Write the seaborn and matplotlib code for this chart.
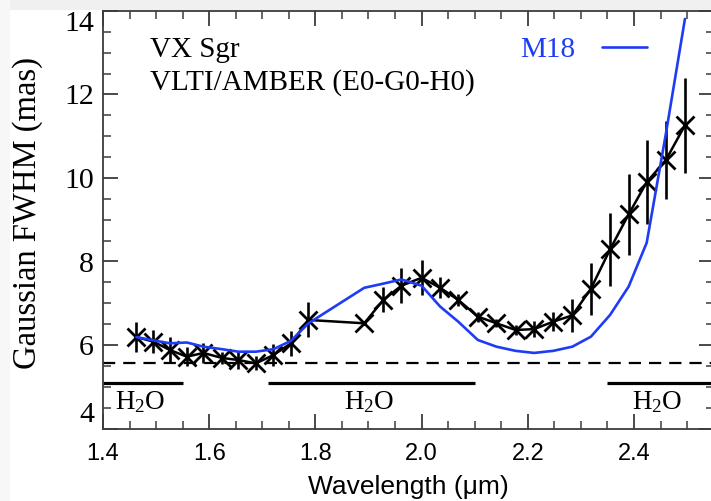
import numpy as np
import pandas as pd
import matplotlib
matplotlib.use("Agg")
import matplotlib.pyplot as plt
from matplotlib.ticker import MultipleLocator
from matplotlib.patches import Rectangle
import seaborn as sns

# ---- data ----
wavelength = [1.463, 1.495, 1.526, 1.558, 1.589, 1.624, 1.655, 1.688, 1.721, 1.754,
              1.787, 1.892, 1.928, 1.962, 2.000, 2.035, 2.069, 2.106, 2.141, 2.177,
              2.212, 2.248, 2.284, 2.319, 2.355, 2.390, 2.424, 2.460, 2.496]
fwhm = [6.19, 6.08, 5.88, 5.72, 5.81, 5.69, 5.64, 5.56, 5.76, 6.04,
        6.60, 6.52, 7.08, 7.42, 7.61, 7.37, 7.08, 6.68, 6.52, 6.36,
        6.38, 6.56, 6.71, 7.35, 8.29, 9.13, 9.90, 10.43, 11.26]
fwhm_err = [0.36, 0.28, 0.30, 0.23, 0.24, 0.15, 0.22, 0.17, 0.26, 0.30,
            0.42, 0.05, 0.30, 0.42, 0.42, 0.25, 0.15, 0.12, 0.10, 0.12,
            0.20, 0.22, 0.40, 0.62, 0.87, 0.97, 1.00, 0.93, 1.14]
model_m18 = [6.19, 6.11, 6.04, 6.06, 5.96, 5.90, 5.84, 5.84, 5.90, 6.10,
             6.52, 7.37, 7.47, 7.57, 7.42, 6.92, 6.56, 6.12, 5.96, 5.86,
             5.81, 5.86, 5.96, 6.20, 6.72, 7.40, 8.45, 11.05, 13.81]
h2o_start = [1.40, 1.71, 2.35]
h2o_end = [1.55, 2.10, 2.56]
h2o_label_x = [1.471, 1.902, 2.444]
h2o_level = 5.09
dashed_level = 5.56
title_lines = ["VX Sgr", "VLTI/AMBER (E0-G0-H0)"]
model_name = "M18"

df = pd.DataFrame({"wl": wavelength, "fwhm": fwhm, "err": fwhm_err, "model": model_m18})

sns.set_theme(style="ticks")
plt.rcParams["font.family"] = ["Liberation Serif", "DejaVu Serif"]
plt.rcParams["mathtext.fontset"] = "custom"
plt.rcParams["mathtext.rm"] = "Liberation Serif"
plt.rcParams["mathtext.it"] = "Liberation Serif:italic"
plt.rcParams["mathtext.bf"] = "Liberation Serif:bold"
plt.rcParams["text.color"] = "black"
plt.rcParams["axes.labelcolor"] = "black"
plt.rcParams["xtick.labelcolor"] = "black"
plt.rcParams["ytick.labelcolor"] = "black"

BLUE = "#1f3cf5"
W, H = 711, 501
fig = plt.figure(figsize=(W / 100, H / 100), dpi=100)
fig.patch.set_facecolor("white")
fig.patches.append(Rectangle((0, 1 - 10 / H), 1, 10 / H, transform=fig.transFigure,
                             facecolor="#f0f0f0", edgecolor="none", zorder=-5))
fig.patches.append(Rectangle((0, 0), 10 / W, 1, transform=fig.transFigure,
                             facecolor="#f7f7f7", edgecolor="none", zorder=-5))

left, right, top, bottom = 103, 713.6, 11, 428.5
ax = fig.add_axes([left / W, (H - bottom) / H, (right - left) / W, (bottom - top) / H])
ax.set_facecolor("white")

ax.errorbar(df["wl"], df["fwhm"], yerr=df["err"], fmt="none", ecolor="black",
            elinewidth=1.9, capsize=0, zorder=3)
sns.lineplot(data=df, x="wl", y="fwhm", color="black", lw=1.8, marker="x",
             markersize=13.5, mew=2.0, mec="black", ax=ax, zorder=4)
sns.lineplot(data=df, x="wl", y="model", color=BLUE, lw=1.9, ax=ax, zorder=5,
             label=model_name)

ax.axhline(dashed_level, color="black", lw=1.6, dashes=(5.5, 3.6), zorder=2)
ax.hlines([h2o_level] * len(h2o_start), h2o_start, h2o_end, color="black", lw=2.3, zorder=2)
for xl in h2o_label_x:
    ax.text(xl, 4.62, r"H$_\mathregular{2}$O", ha="center", va="center", fontsize=19.5)

ax.text(0.077, 0.9066, title_lines[0], transform=ax.transAxes, va="center", ha="left",
        fontsize=21)
ax.text(0.077, 0.8275, title_lines[1], transform=ax.transAxes, va="center", ha="left",
        fontsize=21)

leg = ax.legend(loc="center right", bbox_to_anchor=(0.8909, 0.9066), frameon=False,
                markerfirst=False, handlelength=1.55, handletextpad=0.9,
                borderpad=0, borderaxespad=0, fontsize=21, labelcolor=BLUE)

ax.set_xlim(1.4, 2.55)
ax.set_ylim(4, 14)
ax.xaxis.set_major_locator(MultipleLocator(0.2))
ax.xaxis.set_minor_locator(MultipleLocator(0.05))
ax.yaxis.set_major_locator(MultipleLocator(2))
ax.yaxis.set_minor_locator(MultipleLocator(0.5))

tick_col = "#3c3c3c"
ax.tick_params(which="both", direction="in", top=True, right=True, color=tick_col)
ax.tick_params(which="major", length=11, width=1.3)
ax.tick_params(which="minor", length=5.5, width=1.1)
ax.tick_params(axis="x", labelfontfamily="Liberation Sans", labelsize=17, pad=10.5,
               labelcolor="black")
ax.tick_params(axis="y", labelsize=21.5, pad=6.5, labelcolor="black")
for s in ax.spines.values():
    s.set_color(tick_col)
    s.set_linewidth(1.3)

ax.set_xlabel("Wavelength (μm)", fontfamily="Liberation Sans", fontsize=19, color="black")
ax.set_ylabel("Gaussian FWHM (mas)", fontsize=23.5, color="black")
ax.yaxis.set_label_coords((28 - left) / (right - left), (bottom - 213) / (bottom - top))
ax.yaxis.label.set_va("center")
ax.xaxis.set_label_coords(0.5, -(487 - bottom) / (bottom - top))
ax.xaxis.label.set_va("center")

fig.canvas.draw()
for t, loc in zip(ax.yaxis.get_major_ticks(), ax.yaxis.get_majorticklocs()):
    if abs(loc - 14) < 1e-6:
        t.label1.set_va("top")
    elif abs(loc - 4) < 1e-6:
        t.label1.set_va("bottom")

fig.savefig("out.png", dpi=100)
